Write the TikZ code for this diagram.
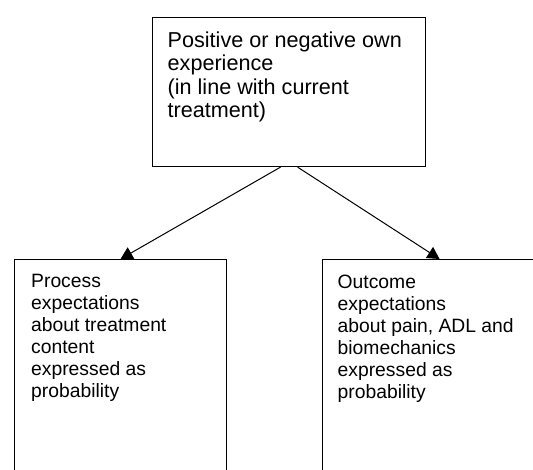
\documentclass[tikz,border=0pt]{standalone}
\usepackage{fontspec}
\setmainfont{Liberation Sans}
\usetikzlibrary{positioning,arrows.meta}
\begin{document}
\begin{tikzpicture}[x=1pt,y=1pt,
    box/.style={draw,line width=1.1pt,anchor=north west,inner sep=0pt},
    boxtext/.style={align=left,inner sep=0pt},
    big/.style={font=\fontsize{21.6}{23.5}\selectfont},
    small/.style={font=\fontsize{19.3}{22}\selectfont},
    conn/.style={line width=1pt,-{Triangle[width=13pt,length=12pt]}}]
    \clip (0,0) rectangle (533,-470);
    % boxes
    \node[box,minimum width=273,minimum height=149] (own) at (152,-17) {};
    \node[box,minimum width=212,minimum height=241] (proc) at (14,-259) {};
    \node[box,minimum width=234,minimum height=241] (outc) at (322,-259) {};
    % texts
    \node[boxtext,big,below right=14.5 and 15.5 of own.north west] (owntext)
      {Positive or negative own\\experience\\(in line with current\\treatment)};
    \node[boxtext,small,below right=15.5 and 17 of proc.north west] (proctext)
      {Process\\expectations\\about treatment\\content\\expressed as\\probability};
    \node[boxtext,small,below right=15.5 and 15.5 of outc.north west] (outctext)
      {Outcome\\expectations\\about pain, ADL and\\biomechanics\\expressed as\\probability};
    % arrows
    \draw[conn] ([xshift=-8.5]own.south) -- (proc.north);
    \draw[conn] ([xshift=8.5]own.south) -- (outc.north);
\end{tikzpicture}
\end{document}
